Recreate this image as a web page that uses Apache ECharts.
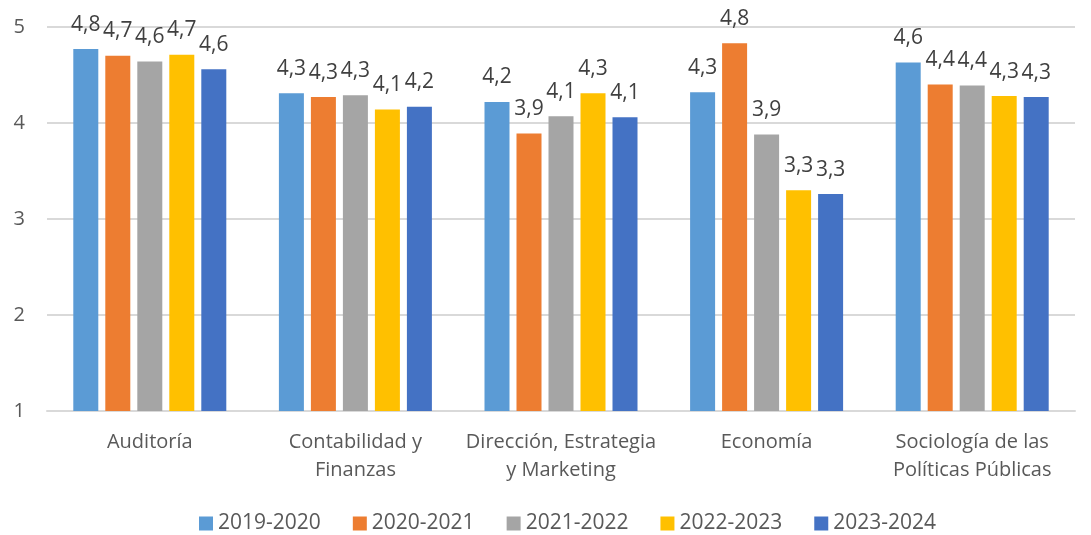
<!DOCTYPE html>
<html>
<head>
<meta charset="utf-8">
<script src="https://cdn.jsdelivr.net/npm/echarts@6/dist/echarts.min.js"></script>
<style>
  html, body { margin: 0; padding: 0; background: #fff; }
  #main { width: 1091px; height: 535px; }
</style>
</head>
<body>
<div id="main"></div>
<script>
var categories = ['Auditoría', 'Contabilidad y\nFinanzas', 'Dirección, Estrategia\ny Marketing', 'Economía', 'Sociología de las\nPolíticas Públicas'];
var years = ['2019-2020', '2020-2021', '2021-2022', '2022-2023', '2023-2024'];
var v2019 = [4.77, 4.31, 4.22, 4.32, 4.63];
var v2020 = [4.70, 4.27, 3.89, 4.83, 4.40];
var v2021 = [4.64, 4.29, 4.07, 3.88, 4.39];
var v2022 = [4.71, 4.14, 4.31, 3.30, 4.28];
var v2023 = [4.56, 4.17, 4.06, 3.26, 4.27];
var yTicks = [1, 2, 3, 4, 5];

var colors = ['#5B9BD5', '#ED7D31', '#A5A5A5', '#FFC000', '#4472C4'];
var font = 'Open Sans';

var chart = echarts.init(document.getElementById('main'));

function bar(name, data) {
    return {
        name: name,
        type: 'bar',
        data: data,
        barWidth: 25,
        barGap: '28%',
        label: {
            show: true,
            position: 'top',
            distance: 14,
            color: '#404040',
            fontFamily: font,
            fontSize: 21,
            formatter: function (p) {
                return p.value.toFixed(1).replace('.', ',');
            }
        }
    };
}

chart.setOption({
    animation: false,
    color: colors,
    textStyle: { fontFamily: font },
    grid: {
        left: 47,
        right: 16,
        top: 27,
        bottom: 124
    },
    legend: {
        top: 513,
        left: 199,
        padding: 0,
        itemWidth: 14,
        itemHeight: 14,
        itemGap: 32,
        icon: 'rect',
        textStyle: { color: '#595959', fontSize: 21, fontFamily: font },
        data: years
    },
    xAxis: {
        type: 'category',
        data: categories,
        axisLine: { lineStyle: { color: '#D9D9D9', width: 2 } },
        axisTick: { show: false },
        axisLabel: {
            color: '#595959',
            fontSize: 20,
            fontFamily: font,
            lineHeight: 28,
            margin: 17,
            interval: 0
        }
    },
    yAxis: {
        type: 'value',
        min: yTicks[0],
        max: yTicks[yTicks.length - 1],
        interval: 1,
        axisLine: { show: false },
        axisTick: { show: false },
        splitLine: { lineStyle: { color: '#D9D9D9', width: 2 } },
        axisLabel: {
            color: '#595959',
            fontSize: 20,
            fontFamily: font,
            margin: 22
        }
    },
    series: [
        bar(years[0], v2019),
        bar(years[1], v2020),
        bar(years[2], v2021),
        bar(years[3], v2022),
        bar(years[4], v2023)
    ]
});
</script>
</body>
</html>
